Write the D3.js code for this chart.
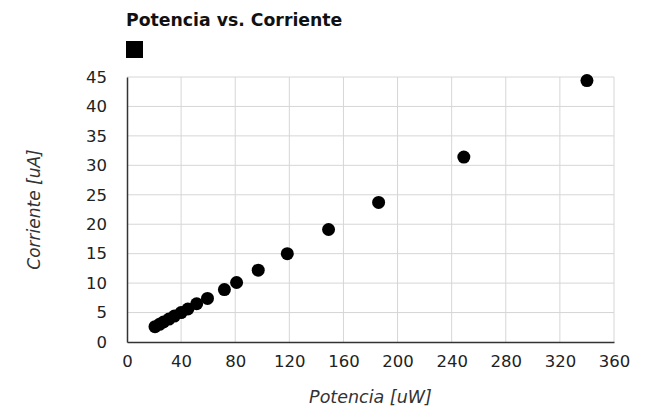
<!DOCTYPE html>
<html>
<head>
<meta charset="utf-8">
<script src="https://cdn.jsdelivr.net/npm/d3@7"></script>
<style>
  body { margin: 0; background: #fff; }
  text { font-family: "DejaVu Sans", sans-serif; }
</style>
</head>
<body>
<svg id="chart"></svg>
<script>
// Data
const potencia = [20.7, 24, 27, 31, 35, 40, 45, 51.5, 59.5, 72, 81, 97, 118.5, 149, 186, 249, 340];
const corriente = [2.6, 3.0, 3.4, 3.9, 4.4, 5.0, 5.6, 6.5, 7.4, 8.9, 10.1, 12.2, 15.0, 19.1, 23.7, 31.4, 44.4];
const xTicks = [0, 40, 80, 120, 160, 200, 240, 280, 320, 360];
const yTicks = [0, 5, 10, 15, 20, 25, 30, 35, 40, 45];

let width = 645;
let height = 408;

let margin = { top: 77, right: 31, bottom: 66, left: 127 };

let svg = d3.select("#chart")
    .attr("width", width)
    .attr("height", height);

let xScale = d3.scaleLinear()
    .domain([0, 360])
    .range([margin.left, width - margin.right]);

let yScale = d3.scaleLinear()
    .domain([0, 45])
    .range([height - margin.bottom, margin.top]);

// Grid lines
svg.append("g")
    .selectAll("line.vgrid")
    .data(xTicks.slice(1))
    .enter().append("line")
    .attr("x1", d => xScale(d)).attr("x2", d => xScale(d))
    .attr("y1", yScale(0)).attr("y2", yScale(45))
    .attr("stroke", "#d6d6d6").attr("stroke-width", 1);

svg.append("g")
    .selectAll("line.hgrid")
    .data(yTicks.slice(1))
    .enter().append("line")
    .attr("x1", xScale(0)).attr("x2", xScale(360))
    .attr("y1", d => yScale(d)).attr("y2", d => yScale(d))
    .attr("stroke", "#d6d6d6").attr("stroke-width", 1);

// Axes
let xAxis = svg.append("g")
    .attr("transform", `translate(0, ${yScale(0)})`)
    .call(d3.axisBottom(xScale).tickValues(xTicks).tickSize(0).tickPadding(13));

let yAxis = svg.append("g")
    .attr("transform", `translate(${xScale(0)}, 0)`)
    .call(d3.axisLeft(yScale).tickValues(yTicks).tickSize(0).tickPadding(20));

[xAxis, yAxis].forEach(ax => {
    ax.select(".domain").attr("stroke", "#333").attr("stroke-width", 1.5);
    ax.selectAll("text")
        .attr("font-family", "DejaVu Sans")
        .attr("font-size", 16.5)
        .attr("fill", "#222");
});

// Points
svg.selectAll(".pt")
    .data(potencia.map((p, i) => ({ p: p, c: corriente[i] })))
    .enter().append("circle")
    .attr("class", "pt")
    .attr("cx", d => xScale(d.p))
    .attr("cy", d => yScale(d.c))
    .attr("r", 6.5)
    .attr("fill", "#000");

// Title and legend swatch
svg.append("text")
    .attr("x", 126).attr("y", 25.5)
    .attr("font-size", 17.3)
    .attr("font-weight", "bold")
    .attr("fill", "#111")
    .text("Potencia vs. Corriente");

svg.append("rect")
    .attr("x", 126).attr("y", 41)
    .attr("width", 17).attr("height", 17)
    .attr("fill", "#000");

// Axis titles
svg.append("text")
    .attr("x", (xScale(0) + xScale(360)) / 2)
    .attr("y", 403)
    .attr("text-anchor", "middle")
    .attr("font-size", 17.5)
    .attr("font-style", "italic")
    .attr("fill", "#333")
    .text("Potencia [uW]");

svg.append("text")
    .attr("transform", `translate(40, ${(yScale(0) + yScale(45)) / 2}) rotate(-90)`)
    .attr("text-anchor", "middle")
    .attr("font-size", 17)
    .attr("font-style", "italic")
    .attr("fill", "#333")
    .text("Corriente [uA]");
</script>
</body>
</html>
